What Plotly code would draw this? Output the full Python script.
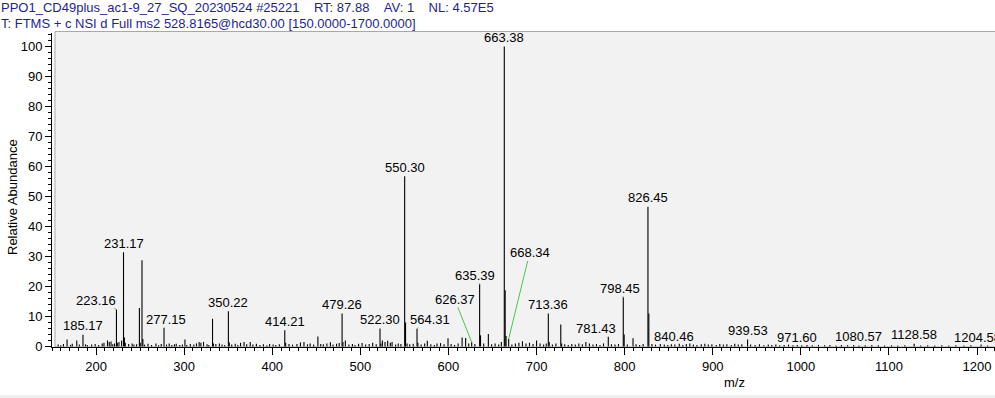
import plotly.graph_objects as go

# ---------------- data ----------------
peak_mz = [157, 160, 163, 167.1, 171, 173, 178.1, 181, 185.17, 188, 190, 195, 199, 203, 207, 209,
           213, 215, 217, 219, 221, 223.16, 224.16, 226, 229, 231.17, 232.17, 233.2, 237, 241, 243,
           246, 249.2, 250.2, 252.16, 253.16, 255, 259, 263, 268, 271, 274, 277.15, 280, 283, 286,
           289, 291, 295, 298, 300.9, 303, 307, 311, 314, 317, 319, 322, 326, 328, 332.2, 333.2,
           336, 340, 343, 346, 350.22, 351.2, 354, 358, 361, 364, 368, 371, 375, 378, 382, 386,
           390, 394, 397, 401, 404, 408, 414.21, 415.2, 419, 423, 428, 432, 436, 440, 443, 447,
           451.8, 455, 458, 462, 466, 469, 473, 476, 479.26, 480.26, 483, 487, 491, 494, 498, 502,
           506, 510, 514, 518, 522.30, 523.3, 525, 528, 531, 534, 536, 540, 543, 546, 550.30,
           551.30, 553, 556, 560, 564.31, 565.3, 569, 573, 576, 580, 584, 587, 591, 595, 599.5,
           603, 607, 611, 615.5, 619.5, 623, 626.37, 630, 635.39, 636.39, 640, 645.3, 649, 653,
           657, 660, 663.38, 664.38, 665.4, 668.34, 672, 676, 680, 684, 688, 692, 696, 700, 704,
           708, 711, 713.36, 714.36, 718, 722, 727.5, 728.5, 732, 736, 740, 744, 748, 752, 756,
           760, 764, 768, 772, 776, 781.43, 785, 789, 793, 798.45, 799.45, 803, 809.5, 813, 817,
           821, 826.45, 827.45, 831, 835, 840.46, 845, 849, 853, 857, 862, 866, 870, 874, 878,
           882, 887, 891, 895, 899, 904, 908, 912, 916, 921, 925, 929, 933, 939.53, 943, 948, 953,
           958, 963, 967, 971.60, 976, 981, 986, 991, 996, 1001, 1007, 1013, 1020, 1027, 1033,
           1040, 1046, 1053, 1060, 1066, 1073, 1080.57, 1088, 1095, 1103, 1110, 1118, 1128.58,
           1136, 1144, 1152, 1160, 1168, 1176, 1185, 1193, 1204.58, 1212]
peak_int = [0.6, 0.4, 0.8, 2.3, 0.5, 0.9, 2.0, 0.6, 3.9, 0.7, 0.5, 0.6, 0.8, 0.5, 1.0, 1.2,
            2.0, 1.5, 1.6, 0.7, 1.0, 12.3, 1.2, 1.5, 2.0, 31.4, 3.0, 1.2, 0.8, 1.0, 0.6,
            0.7, 12.8, 1.2, 28.7, 2.5, 0.6, 0.9, 0.5, 1.0, 0.4, 0.8, 6.1, 0.6, 1.0, 0.5,
            0.7, 0.9, 0.5, 0.6, 2.3, 0.5, 0.8, 0.6, 1.0, 1.5, 1.2, 1.5, 0.7, 0.5, 9.2, 1.0,
            0.8, 1.0, 0.6, 0.5, 11.7, 1.3, 0.6, 0.9, 0.5, 1.2, 1.5, 0.7, 1.5, 0.6, 0.9, 0.5,
            0.7, 0.4, 0.8, 0.6, 0.5, 0.7, 5.4, 1.2, 0.8, 0.6, 0.8, 1.3, 1.5, 0.7, 1.0, 0.6,
            3.3, 0.8, 0.7, 1.0, 1.4, 0.6, 0.9, 1.1, 11.0, 1.5, 2.0, 0.6, 0.8, 0.5, 0.9, 1.1,
            0.6, 0.8, 1.2, 0.7, 6.0, 1.0, 2.0, 1.5, 1.9, 1.2, 1.5, 0.6, 1.0, 0.8, 56.7,
            8.0, 1.0, 0.7, 0.9, 5.9, 1.2, 0.6, 1.0, 1.9, 0.7, 0.5, 1.0, 1.1, 0.7, 2.7,
            0.8, 0.5, 1.0, 3.0, 2.8, 1.0, 1.4, 0.8, 20.7, 3.7, 1.0, 4.1, 0.7, 1.0,
            0.6, 1.5, 100.0, 18.7, 3.5, 2.5, 0.6, 1.0, 1.2, 1.7, 1.0, 1.2, 0.8, 2.0, 1.0,
            0.6, 1.0, 11.0, 1.5, 0.6, 1.0, 7.3, 1.0, 0.7, 0.5, 0.8, 0.6, 1.0, 0.7, 1.5,
            1.0, 0.6, 0.8, 0.5, 1.0, 3.2, 0.7, 0.6, 0.8, 16.4, 4.0, 0.6, 2.7, 0.7, 0.5,
            0.8, 46.6, 11.0, 0.8, 0.6, 0.8, 0.6, 0.5, 0.7, 0.6, 0.9, 0.5, 0.8, 1.0, 0.6,
            0.5, 0.7, 0.9, 0.6, 0.7, 0.5, 0.8, 0.6, 0.7, 0.5, 0.9, 0.6, 0.7, 2.3, 0.6, 0.5, 0.7,
            0.4, 0.6, 0.5, 0.6, 0.4, 0.5, 0.6, 0.4, 0.5, 0.4, 0.5, 0.4, 0.5, 0.4, 0.5,
            0.3, 0.5, 0.4, 0.5, 0.3, 0.4, 0.5, 0.4, 0.3, 0.4, 0.3, 0.4, 0.9,
            0.3, 0.4, 0.3, 0.4, 0.3, 0.4, 0.3, 0.4, 0.6, 0.3]

label_mz = [185.17, 223.16, 231.17, 277.15, 350.22, 414.21, 479.26, 522.30, 550.30, 564.31,
            626.37, 635.39, 663.38, 668.34, 713.36, 781.43, 798.45, 826.45, 840.46, 939.53,
            971.60, 1080.57, 1128.58, 1204.58]

x_ticks = [200, 300, 400, 500, 600, 700, 800, 900, 1000, 1100, 1200]
y_ticks = [0, 10, 20, 30, 40, 50, 60, 70, 80, 90, 100]

GAP = "\u00a0" * 4
header_1 = f"PPO1_CD49plus_ac1-9_27_SQ_20230524 #25221{GAP}RT: 87.88{GAP}AV: 1{GAP}NL: 4.57E5"
header_2 = "T: FTMS + c NSI d Full ms2 528.8165@hcd30.00 [150.0000-1700.0000]"

# label leader offsets in pixels (style/position, not data)
leader_offsets = {223.16: (-20, -9), 277.15: (2, -9), 564.31: (13, -9), 626.37: (-17, -43),
                  635.39: (-5, -9), 668.34: (21, -86), 781.43: (-12, -8), 798.45: (-3, -9),
                  840.46: (14, -8), 971.60: (21, -7), 1080.57: (-13, -8), 1204.58: (-4, -7)}

# ---------------- figure ----------------
W, H = 995, 398
L, R, T, B = 52, 0, 33, 51
PW, PH = W - L - R, H - T - B
X0 = 150
X1 = X0 + PW / 0.881

sx, sy = [], []
for m, v in zip(peak_mz, peak_int):
    sx += [m, m, None]
    sy += [0, v, None]

FONT = "Liberation Sans, Arial, sans-serif"
fig = go.Figure()
fig.add_trace(go.Scatter(x=sx, y=sy, mode="lines", line=dict(color="black", width=1.1),
                         hoverinfo="skip", showlegend=False))

int_of = dict(zip(peak_mz, peak_int))
annotations = []
for m in label_mz:
    v = int_of[m]
    txt = f"{m:.2f}"
    if m in leader_offsets:
        ax, ay = leader_offsets[m]
        annotations.append(dict(x=m, y=v, xref="x", yref="y", text=txt, showarrow=True,
                                arrowhead=0, arrowwidth=1, arrowcolor="#4cc44c", standoff=0,
                                ax=ax, ay=ay, font=dict(family=FONT, size=13, color="black"),
                                borderpad=0))
    else:
        annotations.append(dict(x=m, y=v, xref="x", yref="y", text=txt, showarrow=False,
                                yanchor="middle", yshift=9,
                                font=dict(family=FONT, size=13, color="black")))

annotations.append(dict(x=-53 / PW, y=(H - B - 8) / PH, xref="paper", yref="paper", text=header_1,
                        showarrow=False, xanchor="left", yanchor="middle",
                        font=dict(family=FONT, size=13, color="#1e1e96")))
annotations.append(dict(x=-53 / PW, y=(H - B - 23.5) / PH, xref="paper", yref="paper", text=header_2,
                        showarrow=False, xanchor="left", yanchor="middle",
                        font=dict(family=FONT, size=13, color="#1e1e96")))
annotations.append(dict(x=(12 - L) / PW, y=0.5 - (197 - (T + PH / 2)) / PH, xref="paper", yref="paper",
                        text="Relative Abundance", textangle=-90, showarrow=False,
                        xanchor="center", yanchor="middle",
                        font=dict(family=FONT, size=13, color="black")))
annotations.append(dict(x=(734 - L) / PW, y=-(382 - (H - B)) / PH, xref="paper", yref="paper",
                        text="m/z", showarrow=False, xanchor="center", yanchor="middle",
                        font=dict(family=FONT, size=13, color="black")))

shapes = [
    dict(type="rect", xref="paper", yref="paper", x0=3 / PW, x1=1.02, y0=0, y1=1 + 1.5 / PH,
         fillcolor="#f2f2f2", line=dict(color="#a8a8a8", width=1), layer="below"),
    dict(type="rect", xref="paper", yref="paper", x0=-L / PW, x1=1.02, y0=-B / PH, y1=-(B - 3) / PH,
         fillcolor="#f0f0f0", line=dict(width=0), layer="below"),
]

fig.update_layout(
    width=W, height=H,
    margin=dict(l=L, r=R, t=T, b=B, pad=0),
    paper_bgcolor="white", plot_bgcolor="white",
    font=dict(family=FONT, size=13, color="black"),
    annotations=annotations, shapes=shapes,
    xaxis=dict(range=[X0, X1], tickvals=x_ticks, ticktext=[str(t) for t in x_ticks],
               ticks="outside", ticklen=7, tickwidth=1, tickcolor="black", automargin=False,
               showline=True, linecolor="black", linewidth=1, showgrid=False, zeroline=False,
               tickfont=dict(family=FONT, size=13, color="black"),
               minor=dict(dtick=10, tick0=0, ticks="outside", ticklen=3, tickcolor="black", showgrid=False)),
    yaxis=dict(range=[-0.2, 104.5], tickvals=y_ticks, ticktext=[str(t) for t in y_ticks],
               ticks="outside", ticklen=6, tickwidth=1, tickcolor="black", automargin=False,
               showline=True, linecolor="black", linewidth=1, showgrid=False, zeroline=False,
               tickfont=dict(family=FONT, size=13, color="black"),
               minor=dict(dtick=2, tick0=0, ticks="outside", ticklen=3, tickcolor="black", showgrid=False)),
)

fig.write_html("out.html", config={"displayModeBar": False},
               post_script="document.body.style.margin='0';document.body.style.overflow='hidden';")
